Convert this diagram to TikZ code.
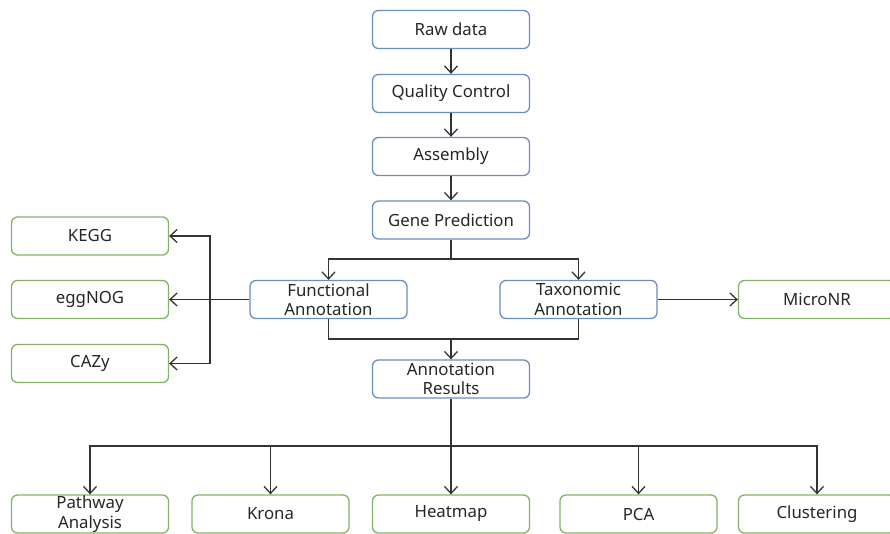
\documentclass[tikz,border=0pt]{standalone}
\usepackage{fontspec}
\setmainfont{Noto Sans}
\usepackage{xcolor}
\usetikzlibrary{arrows.meta}
\definecolor{boxblue}{HTML}{6C8EBF}
\definecolor{boxgreen}{HTML}{82B366}

\begin{document}
\begin{tikzpicture}[x=1pt, y=-1pt,
  stage/.style={draw=boxblue, line width=1.3pt, rounded corners=6pt, minimum width=157pt, minimum height=38pt, inner sep=0pt, align=center, font=\fontsize{16.8}{19.5}\selectfont, text=black!85},
  result/.style={stage, draw=boxgreen},
  flow/.style={-{Straight Barb[length=7pt, width=13pt]}, line width=1.3pt, draw=black!80},
  link/.style={line width=1.3pt, draw=black!80}]
\useasboundingbox (0,0) rectangle (890,534);

\node[stage] (1) at (451,29.5) {Raw data};
\node[stage] (2) at (451,93.5) {Quality Control};
\node[stage] (3) at (451,156.5) {Assembly};
\node[stage] (4) at (451,220) {Gene Prediction};
\node[stage] (5) at (328.5,299.5) {Functional\\Annotation};
\node[stage] (6) at (578.5,299.5) {Taxonomic\\Annotation};
\node[stage] (7) at (451,379) {Annotation\\Results};

\node[result] (8) at (90,236) {KEGG};
\node[result] (9) at (90,299.5) {eggNOG};
\node[result] (10) at (90,363.5) {CAZy};
\node[result] (11) at (817,299.5) {MicroNR};

\node[result] (12) at (90,514) {Pathway\\Analysis};
\node[result] (13) at (270.5,514) {Krona};
\node[result] (14) at (451,514) {Heatmap};
\node[result] (15) at (638.5,514) {PCA};
\node[result] (16) at (817,514) {Clustering};

\coordinate (s1) at (451,259);
\coordinate (s2) at (451,339);
\coordinate (s3) at (210,299.5);
\coordinate (s4) at (451,446);

\path[flow] (1) -- (2);
\path[flow] (2) -- (3);
\path[flow] (3) -- (4);
\path[link] (4) -- (s1);
\path[flow] (s1) -| (5);
\path[flow] (s1) -| (6);
\path[link] (5) |- (s2);
\path[link] (6) |- (s2);
\path[flow] (s2) -- (7);

\path[flow] (5) -- (9);
\path[flow] (s3) |- (8);
\path[flow] (s3) |- (10);
\path[flow] (6) -- (11);

\path[link] (7) -- (s4);
\path[flow] (s4) -| (12);
\path[flow] (s4) -| (13);
\path[flow] (s4) -- (14);
\path[flow] (s4) -| (15);
\path[flow] (s4) -| (16);

\end{tikzpicture}
\end{document}
